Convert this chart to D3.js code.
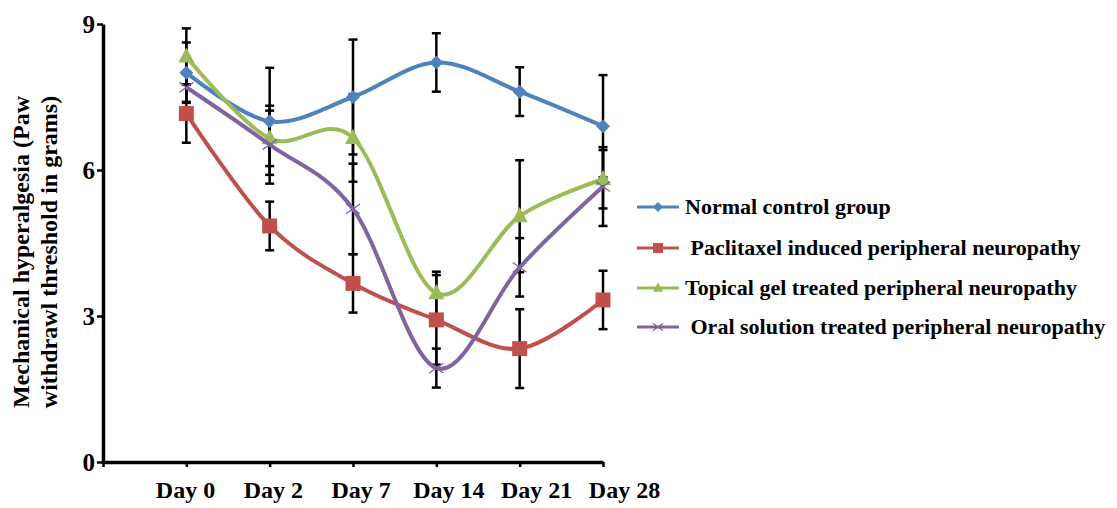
<!DOCTYPE html>
<html>
<head>
<meta charset="utf-8">
<script src="https://cdn.jsdelivr.net/npm/d3@7"></script>
<style>
  body { margin: 0; background: #fff; }
  text { font-family: "Liberation Serif", "Times New Roman", serif; font-weight: bold; }
</style>
</head>
<body>
<script>
// categories (first one is the empty slot Excel leaves before Day 0)
const days = ['', 'Day 0', 'Day 2', 'Day 7', 'Day 14', 'Day 21', 'Day 28']
const yTicks = [0, 3, 6, 9]

const seriesNames = [
    'Normal control group',
    ' Paclitaxel induced peripheral neuropathy',
    'Topical gel treated peripheral neuropathy',
    ' Oral solution treated peripheral neuropathy'
]

const normalVals = [8.0, 7.0, 7.5, 8.21, 7.61, 6.9]
const normalErr = [0.62, 1.1, 1.18, 0.6, 0.5, 1.05]

const paclitaxelVals = [7.16, 4.85, 3.67, 2.92, 2.33, 3.33]
const paclitaxelErr = [0.6, 0.5, 0.6, 0.92, 0.81, 0.6]

const gelVals = [8.33, 6.65, 6.66, 3.47, 5.05, 5.81]
const gelErr = [0.58, 0.57, 0.9, 0.44, 1.15, 0.6]

const oralVals = [7.7, 6.52, 5.2, 1.93, 4.0, 5.66]
const oralErr = [0.3, 0.8, 0.93, 0.4, 0.6, 0.81]

const colors = ['#4f81bd', '#c0504d', '#9bbb59', '#8064a2']
const shapes = ['diamond', 'square', 'triangle', 'cross']

const series = [
    { vals: normalVals, err: normalErr },
    { vals: paclitaxelVals, err: paclitaxelErr },
    { vals: gelVals, err: gelErr },
    { vals: oralVals, err: oralErr }
]

const m = { width: 1117, height: 508 }

const svg = d3.select('body').append('svg')
    .attr('width', m.width)
    .attr('height', m.height)

const x = d3.scalePoint()
    .domain(days)
    .range([103, 603])

// the category labels sit on a slightly wider spread than the ticks
const xLabel = d3.scalePoint()
    .domain(days.slice(1))
    .range([185, 624])

const y = d3.scaleLinear()
    .domain([0, 9])
    .range([462, 24])

// axes
const xAxis = svg.append('g')
    .attr('transform', 'translate(0,462)')
    .call(d3.axisBottom(x).tickSize(5).tickSizeOuter(0).tickPadding(14))
xAxis.select('.domain').attr('stroke-width', 3.5)
xAxis.selectAll('.tick line').attr('stroke-width', 2.5)
xAxis.selectAll('.tick text')
    .attr('x', function(d) { return d ? xLabel(d) - x(d) : 0 })
    .attr('font-size', '24px')
    .attr('fill', '#000')
    .attr('font-family', '"Liberation Serif", serif')
    .attr('font-weight', 'bold')

const yAxis = svg.append('g')
    .attr('transform', 'translate(103,0)')
    .call(d3.axisLeft(y).tickValues(yTicks).tickSize(6).tickSizeOuter(0).tickPadding(2))
yAxis.select('.domain').attr('stroke-width', 3.5)
yAxis.selectAll('.tick line').attr('stroke-width', 2.5)
yAxis.selectAll('.tick text')
    .attr('font-size', '25px')
    .attr('fill', '#000')
    .attr('font-family', '"Liberation Serif", serif')
    .attr('font-weight', 'bold')

// y axis title
const yTitle = svg.append('text')
    .attr('transform', 'translate(29,252) rotate(-90)')
    .attr('text-anchor', 'middle')
    .attr('font-size', '24px')
    .attr('fill', '#000')
yTitle.append('tspan').attr('x', 0).attr('dy', 0).text('Mechanical hyperalgesia (Paw')
yTitle.append('tspan').attr('x', 0).attr('dy', 28).text('withdrawl threshold in grams)')

const cats = days.slice(1)

function marker(sel, shape, color, s) {
    if (shape === 'diamond') {
        sel.append('path')
            .attr('d', `M0,${-s}L${s},0L0,${s}L${-s},0Z`)
            .attr('fill', color)
    } else if (shape === 'square') {
        sel.append('rect')
            .attr('x', -s).attr('y', -s)
            .attr('width', 2 * s).attr('height', 2 * s)
            .attr('fill', color)
    } else if (shape === 'triangle') {
        sel.append('path')
            .attr('d', `M0,${-s * 1.15}L${s},${s * 0.75}L${-s},${s * 0.75}Z`)
            .attr('fill', color)
    } else {
        sel.append('path')
            .attr('d', `M${-s},${-s * 0.7}L${s},${s * 0.7}M${-s},${s * 0.7}L${s},${-s * 0.7}`)
            .attr('stroke', color)
            .attr('stroke-width', 1.3)
            .attr('fill', 'none')
    }
}

// error bars (drawn first, behind lines)
const errG = svg.append('g')
series.forEach(function(s) {
    cats.forEach(function(c, i) {
        const cx = x(c)
        const top = y(s.vals[i] + s.err[i])
        const bot = y(s.vals[i] - s.err[i])
        errG.append('line')
            .attr('x1', cx).attr('x2', cx)
            .attr('y1', top).attr('y2', bot)
            .attr('stroke', '#000').attr('stroke-width', 2.5)
        ;[top, bot].forEach(function(yy) {
            errG.append('line')
                .attr('x1', cx - 4.5).attr('x2', cx + 4.5)
                .attr('y1', yy).attr('y2', yy)
                .attr('stroke', '#000').attr('stroke-width', 2.5)
        })
    })
})

const line = d3.line()
    .x(function(d) { return x(d.cat) })
    .y(function(d) { return y(d.v) })
    .curve(d3.curveCatmullRom.alpha(0))

const markerSize = [7, 7.5, 8, 7]

series.forEach(function(s, k) {
    const pts = cats.map(function(c, i) { return { cat: c, v: s.vals[i] } })
    svg.append('path')
        .datum(pts)
        .attr('d', line)
        .attr('fill', 'none')
        .attr('stroke', colors[k])
        .attr('stroke-width', 4)
    pts.forEach(function(p) {
        const g = svg.append('g')
            .attr('transform', `translate(${x(p.cat)},${y(p.v)})`)
        marker(g, shapes[k], colors[k], markerSize[k])
    })
})

// legend
const legendY = [207, 248, 288, 327]
seriesNames.forEach(function(name, k) {
    const g = svg.append('g').attr('transform', `translate(637,${legendY[k]})`)
    g.append('line')
        .attr('x1', 0).attr('x2', 42)
        .attr('stroke', colors[k]).attr('stroke-width', 3)
    const mg = g.append('g').attr('transform', 'translate(21,0)')
    marker(mg, shapes[k], colors[k], 5)
    g.append('text')
        .attr('x', 48)
        .attr('y', 7)
        .attr('font-size', '22px')
        .attr('fill', '#000')
        .attr('xml:space', 'preserve')
        .style('white-space', 'pre')
        .text(name)
})
</script>
</body>
</html>
